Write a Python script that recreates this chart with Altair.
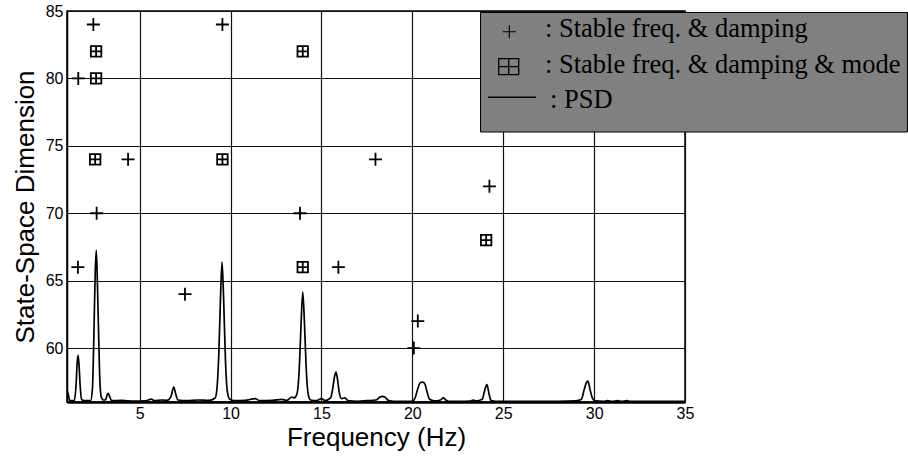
import altair as alt
import pandas as pd

# ---- data ----
plus_freq = [2.45, 9.55, 1.62, 4.36, 17.97, 2.63, 13.82, 24.24, 1.60, 15.93, 7.49, 20.30, 20.08]
plus_dim = [84, 84, 80, 74, 74, 70, 70, 72, 66, 66, 64, 62, 60]

box_freq = [2.60, 13.97, 2.60, 2.55, 9.55, 24.06, 13.97]
box_dim = [82, 82, 80, 74, 74, 68, 66]

psd_freq = [1.00, 1.08, 1.15, 1.30, 1.40, 1.50, 1.56, 1.61, 1.66, 1.72, 1.80, 1.95, 2.15, 2.30,
            2.40, 2.48, 2.55, 2.61, 2.67, 2.74, 2.82, 2.90, 3.00, 3.12, 3.20, 3.27, 3.35, 3.45,
            4.00, 4.70, 5.30, 5.64, 5.80, 6.20, 6.50, 6.72, 6.87, 7.00, 7.10, 7.60, 8.20, 8.80,
            9.15, 9.25, 9.35, 9.44, 9.53, 9.62, 9.72, 9.82, 9.95, 10.20, 10.80, 11.35, 11.60,
            12.30, 12.81, 13.10, 13.37, 13.50, 13.65, 13.78, 13.87, 13.97, 14.06, 14.16, 14.28,
            14.40, 14.70, 15.00, 15.20, 15.50, 15.62, 15.72, 15.80, 15.88, 15.98, 16.10, 16.30,
            16.45, 17.00, 17.50, 18.00, 18.20, 18.35, 18.50, 18.70, 19.00, 19.60, 20.00, 20.15,
            20.30, 20.45, 20.58, 20.70, 20.80, 20.95, 21.20, 21.55, 21.70, 21.85, 22.00, 22.50,
            23.20, 23.36, 23.50, 23.85, 23.95, 24.10, 24.22, 24.33, 24.60, 26.00, 27.00, 28.00,
            29.00, 29.30, 29.45, 29.58, 29.66, 29.78, 29.90, 30.05, 30.50, 30.75, 31.00, 31.30,
            31.50, 31.80, 32.00, 33.00, 35.00]
psd_level = [56.90, 56.50, 56.10, 56.10, 56.10, 57.30, 58.90, 59.46, 58.80, 57.30, 56.20, 56.10, 56.10, 56.10,
             57.00, 61.00, 65.50, 67.26, 65.00, 61.00, 57.20, 56.30, 56.15, 56.15, 56.50, 56.65, 56.40, 56.10,
             56.12, 56.06, 56.08, 56.22, 56.10, 56.15, 56.12, 56.40, 57.11, 56.50, 56.15, 56.10, 56.15, 56.12,
             56.30, 57.00, 59.50, 63.50, 66.39, 63.50, 59.00, 56.80, 56.20, 56.10, 56.12, 56.25, 56.10,
             56.12, 56.20, 56.12, 56.37, 56.30, 56.60, 58.50, 61.50, 64.16, 62.00, 58.50, 56.50,
             56.15, 56.10, 56.25, 56.10, 56.30, 57.00, 57.90, 58.22, 57.70, 56.70, 56.25, 56.30,
             56.10, 56.05, 56.10, 56.15, 56.35, 56.42, 56.35, 56.10, 56.05, 56.05, 56.05, 56.30,
             57.00, 57.45, 57.48, 57.30, 56.80, 56.20, 56.08, 56.15, 56.30, 56.15, 56.05, 56.05,
             56.07, 56.15, 56.08, 56.20, 56.70, 57.29, 56.60, 56.10, 56.05, 56.05, 56.05, 56.05,
             56.08, 56.20, 56.90, 57.45, 57.55, 56.90, 56.30, 56.08, 56.05, 56.10, 56.05, 56.10,
             56.05, 56.10, 56.05, 56.05, 56.05]

x_ticks = [5, 10, 15, 20, 25, 30, 35]
y_ticks = [60, 65, 70, 75, 80, 85]
legend_labels = [": Stable freq. & damping", ": Stable freq. & damping & mode", ": PSD"]

plus_df = pd.DataFrame({"freq": plus_freq, "dim": plus_dim})
box_df = pd.DataFrame({"freq": box_freq, "dim": box_dim})
psd_df = pd.DataFrame({"freq": psd_freq, "level": psd_level})

# ---- scales / axes ----
x_scale = alt.Scale(domain=[1, 35], nice=False, zero=False)
y_scale = alt.Scale(domain=[56, 85], nice=False, zero=False)

x_axis = alt.Axis(values=x_ticks, title="Frequency (Hz)", grid=True, ticks=False,
                  labelPadding=3, titleY=43, titleBaseline="alphabetic",
                  domain=True, domainColor="black", domainWidth=2.5,
                  labelOverlap=False, labelFlush=False)
y_axis = alt.Axis(values=y_ticks, title="State-Space Dimension", grid=True, ticks=False,
                  labelPadding=4, titleX=-34, titleAngle=-90, titleBaseline="alphabetic",
                  domain=True, domainColor="black", domainWidth=1.5,
                  labelOverlap=False, labelFlush=False)

PLUS = "M-1,0L1,0M0,-1L0,1"
BOXPLUS = "M-1,-1L1,-1L1,1L-1,1Z M-1,0L1,0 M0,-1L0,1"
BOXPLUS_WIDE = "M-1,-0.8L1,-0.8L1,0.8L-1,0.8Z M-1,0L1,0 M0,-0.8L0,0.8"

psd = alt.Chart(psd_df).mark_line(color="black", strokeWidth=1.7, interpolate="monotone", clip=True).encode(
    x=alt.X("freq:Q", scale=x_scale, axis=x_axis),
    y=alt.Y("level:Q", scale=y_scale, axis=y_axis),
)

plus = alt.Chart(plus_df).mark_point(shape=PLUS, size=169, filled=False, color="black",
                                     strokeWidth=1.8, opacity=1).encode(
    x=alt.X("freq:Q", scale=x_scale, axis=x_axis),
    y=alt.Y("dim:Q", scale=y_scale, axis=y_axis),
)

boxes = alt.Chart(box_df).mark_point(shape=BOXPLUS, size=110, filled=False, color="black",
                                     strokeWidth=1.8, opacity=1).encode(
    x=alt.X("freq:Q", scale=x_scale, axis=x_axis),
    y=alt.Y("dim:Q", scale=y_scale, axis=y_axis),
)

one = pd.DataFrame({"k": [0]})

legend_box = alt.Chart(one).mark_rect(fill="#808080", stroke="black", strokeWidth=1).encode(
    x=alt.value(413.5), x2=alt.value(840.5), y=alt.value(1.5), y2=alt.value(121)
)

leg_plus = alt.Chart(one).mark_point(shape=PLUS, size=169, filled=False, color="black",
                                     strokeWidth=1.1, opacity=1).encode(
    x=alt.value(442.3), y=alt.value(20.7)
)
leg_box = alt.Chart(one).mark_point(shape=BOXPLUS_WIDE, size=400, filled=False, color="black",
                                    strokeWidth=1.3, opacity=1).encode(
    x=alt.value(441.7), y=alt.value(55.7)
)
leg_line = alt.Chart(one).mark_rule(color="black", strokeWidth=1.5).encode(
    x=alt.value(421), x2=alt.value(469), y=alt.value(86.3)
)

def leg_text(label, x, y):
    return alt.Chart(pd.DataFrame({"label": [label]})).mark_text(
        font="Liberation Serif", fontSize=26.5, color="black", align="left", baseline="alphabetic"
    ).encode(x=alt.value(x), y=alt.value(y), text="label:N")

t1 = leg_text(legend_labels[0], 478, 26.3)
t2 = leg_text(legend_labels[1], 478, 62.0)
t3 = leg_text(legend_labels[2], 483, 97.3)

chart = alt.layer(psd, plus, boxes, legend_box, leg_plus, leg_box, leg_line, t1, t2, t3).properties(
    width=618, height=391,
    autosize=alt.AutoSizeParams(type="none"),
    padding={"left": 67, "top": 11, "right": 223, "bottom": 57},
    background="white",
).configure_view(
    stroke="black", strokeWidth=1.5
).configure_axis(
    labelFont="Liberation Sans", labelFontSize=16, labelColor="black",
    titleFont="Liberation Sans", titleFontSize=26, titleFontWeight="normal", titleColor="black",
    gridColor="#111111", gridWidth=1.2, gridOpacity=1,
)

chart.save("out.html", embed_options={"renderer": "svg", "actions": False})
